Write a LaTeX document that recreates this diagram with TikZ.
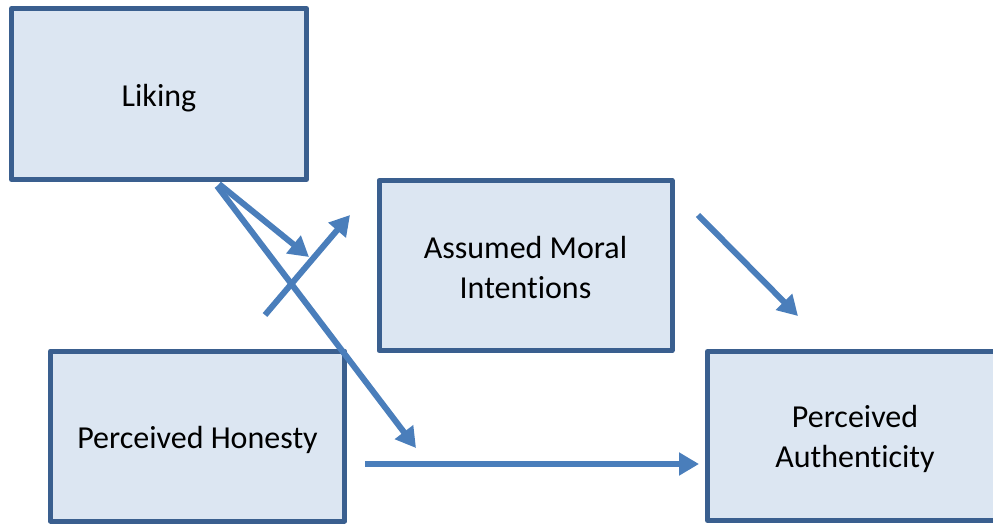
\documentclass[tikz,border=0pt]{standalone}
\usepackage{fontspec}
\setmainfont[Ligatures=NoCommon]{Carlito}
\usetikzlibrary{arrows.meta}
\definecolor{relleno}{HTML}{DCE6F2}
\definecolor{borde}{HTML}{3A5F8F}
\definecolor{flecha}{HTML}{4A7EBB}
\tikzset{
  caja/.style={draw=borde,fill=relleno,line width=5pt,line join=round,
    inner sep=0pt},
  texto/.style={align=center,inner sep=0pt,font=\fontsize{32}{39.5}\selectfont},
  via/.style={draw=flecha,line width=6pt,
    -{Triangle[length=20pt,width=22pt]}}
}

\begin{document}
\begin{tikzpicture}[x=1pt,y=-1pt]
  \useasboundingbox (0,0) rectangle (993,524);

  % cajas
  \node[caja,minimum width=295pt,minimum height=171pt,
    label={[texto,yshift=-4pt]center:Liking}] (liking) at (159,94) {};
  \node[caja,minimum width=293pt,minimum height=170pt,
    label={[texto,yshift=-2pt]center:Assumed Moral\\Intentions}] (moral) at (525.5,265.5) {};
  \node[caja,minimum width=294pt,minimum height=170pt,
    label={[texto,yshift=-4pt]center:Perceived Honesty}] (honesty) at (197.5,436) {};
  \node[caja,minimum width=295pt,minimum height=169pt,
    label={[texto,yshift=-3pt]center:Perceived\\Authenticity}] (auth) at (855,436) {};

  % extremos de las flechas
  \coordinate (lk1) at (219,184);
  \coordinate (lk1f) at (309,257);
  \coordinate (lk2) at (217,186);
  \coordinate (lk2f) at (416,448);
  \coordinate (hn1) at (265,315);
  \coordinate (hn1f) at (350,215);
  \coordinate (mr1) at (698,215);
  \coordinate (mr1f) at (798,316);
  \coordinate (hn2) at (365,464);
  \coordinate (hn2f) at (699,464);

  % flechas
  \draw[via] (lk1) -- (lk1f);
  \draw[via] (lk2) -- (lk2f);
  \draw[via] (hn1) -- (hn1f);
  \draw[via] (mr1) -- (mr1f);
  \draw[via] (hn2) -- (hn2f);
\end{tikzpicture}
\end{document}
